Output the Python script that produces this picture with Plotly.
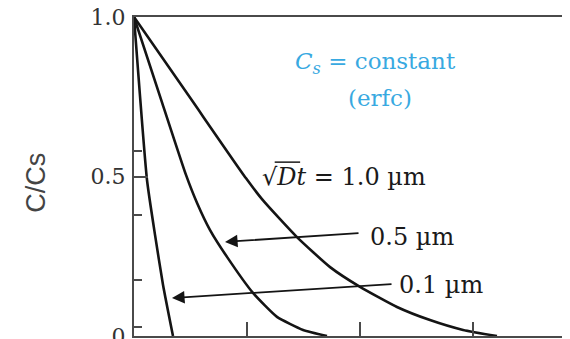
import plotly.graph_objects as go

# Depth x (µm) and normalized concentration C/Cs
x_01 = [0.0, 0.115, 0.186, 0.257, 0.345]
c_01 = [1.0, 0.489, 0.317, 0.160, 0.0]

x_05 = [0.0, 0.25, 0.46, 0.558, 0.673, 0.823, 1.053, 1.265, 1.496, 1.708]
c_05 = [1.0, 0.73, 0.505, 0.417, 0.332, 0.248, 0.135, 0.060, 0.019, 0.0]

x_10 = [0.0, 0.5, 0.99, 1.142, 1.442, 1.735, 2.0, 2.327, 2.619, 2.912, 3.212]
c_10 = [1.0, 0.745, 0.495, 0.425, 0.310, 0.216, 0.154, 0.091, 0.050, 0.019, 0.0]

y_tick_vals = [0, 0.5, 1.0]
y_tick_text = ["0", "0.5", "1.0"]
y_minor_vals = [0.028, 0.176, 0.379, 0.58]
x_tick_vals = [1, 2, 3]

curve_color = "#141414"
axis_color = "#4a4a4a"
blue = "#38A9E1"
serif = "DejaVu Serif"

fig = go.Figure()
for xs, cs in [(x_01, c_01), (x_05, c_05), (x_10, c_10)]:
    fig.add_trace(go.Scatter(x=xs, y=cs, mode="lines",
                             line=dict(color=curve_color, width=2.6, shape="spline", smoothing=0.5),
                             showlegend=False, hoverinfo="skip"))

# the page body keeps an 8px margin: size the figure so it ends at the window edges
fig.update_layout(
    width=562, height=331,
    margin=dict(l=126, r=0, t=9, b=3, autoexpand=False),
    paper_bgcolor="white", plot_bgcolor="white",
    xaxis=dict(range=[0, 3.858], showgrid=False, zeroline=False, showline=True, linecolor=axis_color, linewidth=2,
               mirror=True, ticks="inside", ticklen=14, tickwidth=1.5, tickcolor=axis_color,
               tickvals=x_tick_vals, showticklabels=False, automargin=False),
    yaxis=dict(range=[0, 1.0], showgrid=False, zeroline=False, showline=True, linecolor=axis_color, linewidth=2,
               ticks="inside", ticklen=14, tickwidth=1.5, tickcolor=axis_color, automargin=False,
               tickvals=y_tick_vals, ticktext=y_tick_text, ticklabeloverflow="allow", ticklabelstandoff=2,
               tickfont=dict(family=serif, size=22, color="#333333"),
               minor=dict(tickvals=y_minor_vals, ticks="inside", ticklen=8, tickwidth=1.5, tickcolor=axis_color)),
)

ann_font = dict(family=serif, size=24, color="#1a1a1a")
fig.add_annotation(x=2.14, y=0.856, xref="x", yref="y", showarrow=False,
                   text="<i>C<sub>s</sub></i> = constant", font=dict(family=serif, size=23, color=blue))
fig.add_annotation(x=2.18, y=0.746, xref="x", yref="y", showarrow=False,
                   text="(erfc)", font=dict(family=serif, size=23, color=blue))
fig.add_annotation(x=1.115, y=0.498, xref="x", yref="y", showarrow=False, xanchor="left",
                   text="\u221a<i>Dt</i> = 1.0 \u00b5m", font=ann_font)
# overline of the square root
fig.add_shape(type="line", xref="x", yref="y", x0=1.245, x1=1.47, y0=0.545, y1=0.545,
              line=dict(color="#1a1a1a", width=1.5))
fig.add_annotation(x=2.071, y=0.310, xref="x", yref="y", showarrow=False, xanchor="left",
                   text="0.5 \u00b5m", font=ann_font)
fig.add_annotation(x=2.327, y=0.160, xref="x", yref="y", showarrow=False, xanchor="left",
                   text="0.1 \u00b5m", font=ann_font)
# arrows
fig.add_annotation(x=0.805, y=0.295, ax=2.0, ay=0.323, xref="x", yref="y", axref="x", ayref="y",
                   text="", showarrow=True, arrowhead=2, arrowsize=1.4, arrowwidth=1.8, arrowcolor=curve_color)
fig.add_annotation(x=0.336, y=0.119, ax=2.292, ay=0.163, xref="x", yref="y", axref="x", ayref="y",
                   text="", showarrow=True, arrowhead=2, arrowsize=1.4, arrowwidth=1.8, arrowcolor=curve_color)
# y title
fig.add_annotation(x=-0.2248, y=0.48, xref="paper", yref="paper", showarrow=False, textangle=-90,
                   xanchor="center", yanchor="middle",
                   text="C/Cs", font=dict(family="Liberation Sans", size=27, color="#444444"))

fig.write_html("out.html")
